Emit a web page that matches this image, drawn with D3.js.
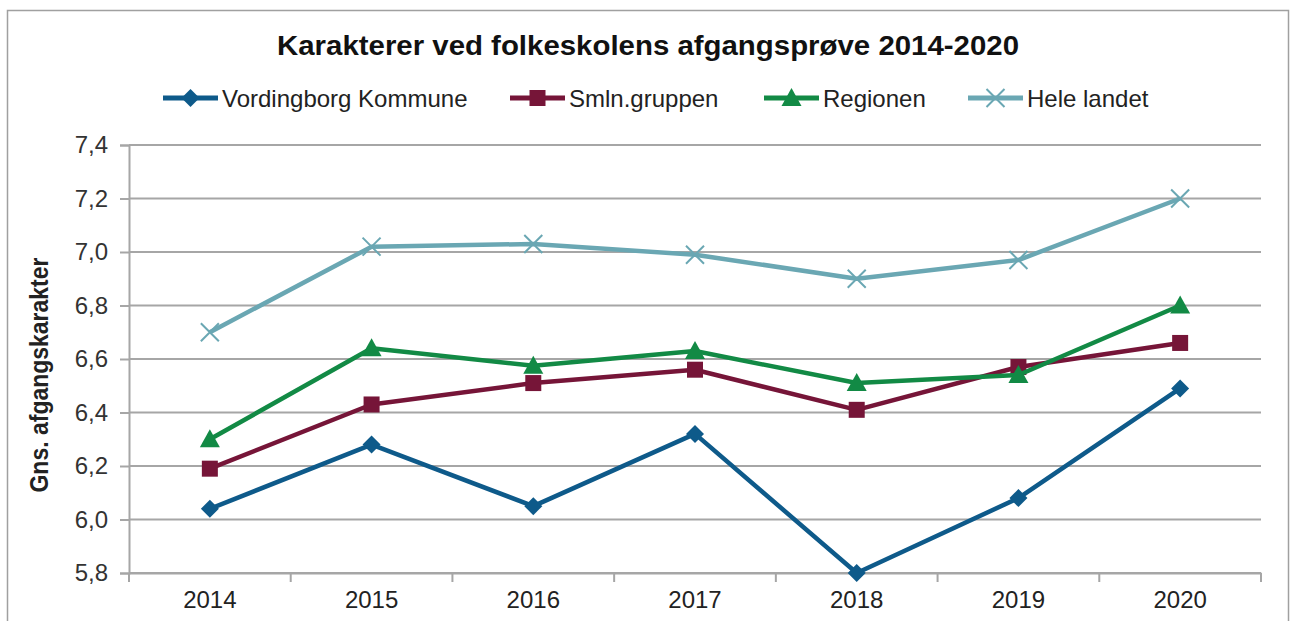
<!DOCTYPE html>
<html><head><meta charset="utf-8">
<script src="https://cdn.jsdelivr.net/npm/d3@7"></script>
<style>body{margin:0;background:#fff;}svg{display:block;font-family:"Liberation Sans",Arial,sans-serif;}</style>
</head><body>
<svg id="c" width="1290" height="621"></svg>
<script>
const title = "Karakterer ved folkeskolens afgangsprøve 2014-2020";
const yAxisTitle = "Gns. afgangskarakter";
const years = ["2014","2015","2016","2017","2018","2019","2020"];
const yTicks = [5.8,6.0,6.2,6.4,6.6,6.8,7.0,7.2,7.4];
const seriesNames = ["Vordingborg Kommune","Smln.gruppen","Regionen","Hele landet"];
const vordingborg = [6.04,6.28,6.05,6.32,5.80,6.08,6.49];
const smln = [6.19,6.43,6.51,6.56,6.41,6.57,6.66];
const regionen = [6.30,6.64,6.575,6.63,6.51,6.54,6.80];
const heleLandet = [6.70,7.02,7.03,6.99,6.90,6.97,7.20];
const colors = ["#0e5a8a","#761538","#128a45","#6aa7b3"];
const markers = ["diamond","square","triangle","x"];

const series = [vordingborg, smln, regionen, heleLandet].map((v,i)=>({name:seriesNames[i], values:v, color:colors[i], marker:markers[i]}));

const FONT = "Liberation Sans, Arial, sans-serif";
const svg = d3.select("#c");
// outer border
svg.append("rect").attr("x",7.5).attr("y",10.5).attr("width",1281).attr("height",620).attr("fill","#fff").attr("stroke","#a0a0a0").attr("stroke-width",1.5);

const L=129, R=1261, T=145, B=573;
const x = d3.scaleBand().domain(years).range([L,R]);
const y = d3.scaleLinear().domain([5.8,7.4]).range([B,T]);

// gridlines
svg.append("g").selectAll("line").data(yTicks).join("line")
  .attr("x1",L).attr("x2",R).attr("y1",d=>y(d)).attr("y2",d=>y(d))
  .attr("stroke","#a6a6a6").attr("stroke-width",2);

// y axis
const yAxis = svg.append("g").attr("transform",`translate(${L},0)`)
  .call(d3.axisLeft(y).tickValues(yTicks).tickSize(9).tickPadding(12).tickFormat(d=>d3.format(".1f")(d).replace(".",",")));
yAxis.select(".domain").attr("stroke","#a6a6a6").attr("stroke-width",2);
yAxis.selectAll(".tick line").attr("stroke","#a6a6a6").attr("stroke-width",2);
yAxis.selectAll("text").attr("font-size",24).attr("fill","#333").attr("font-family",FONT);

// x axis
const xAxis = svg.append("g").attr("transform",`translate(0,${B})`)
  .call(d3.axisBottom(x).tickSize(0).tickPadding(18));
xAxis.select(".domain").attr("stroke","#a6a6a6").attr("stroke-width",2);
xAxis.selectAll("text").attr("font-size",24).attr("fill","#222").attr("font-family",FONT);
// category separators
const edges = years.map(d=>x(d)).concat([x(years[years.length-1])+x.bandwidth()]);
svg.append("g").selectAll("line").data(edges).join("line")
  .attr("x1",d=>d).attr("x2",d=>d).attr("y1",B).attr("y2",B+9)
  .attr("stroke","#a6a6a6").attr("stroke-width",2);

// title
svg.append("text").attr("x",648).attr("y",55).attr("text-anchor","middle")
  .attr("font-size",28).attr("font-weight","bold").attr("fill","#111")
  .attr("textLength",742).attr("lengthAdjust","spacingAndGlyphs").text(title);

// y axis title
svg.append("text").attr("transform","translate(48,375) rotate(-90)").attr("text-anchor","middle")
  .attr("font-size",25).attr("font-weight","bold").attr("fill","#222")
  .attr("textLength",235).attr("lengthAdjust","spacingAndGlyphs").text(yAxisTitle);

function drawMarker(g, type, cx, cy, color){
  if(type==="diamond"){
    g.append("path").attr("d",`M${cx},${cy-9}L${cx+9},${cy}L${cx},${cy+9}L${cx-9},${cy}Z`).attr("fill",color);
  } else if(type==="square"){
    g.append("rect").attr("x",cx-8).attr("y",cy-8).attr("width",16).attr("height",16).attr("fill",color);
  } else if(type==="triangle"){
    g.append("path").attr("d",`M${cx},${cy-10}L${cx+10},${cy+8}L${cx-10},${cy+8}Z`).attr("fill",color);
  } else {
    g.append("path").attr("d",`M${cx-9},${cy-9}L${cx+9},${cy+9}M${cx-9},${cy+9}L${cx+9},${cy-9}`).attr("stroke",color).attr("stroke-width",2);
  }
}

const line = d3.line().x((d,i)=>x(years[i])+x.bandwidth()/2).y(d=>y(d));
series.forEach(s=>{
  const g = svg.append("g");
  g.append("path").attr("d",line(s.values)).attr("fill","none").attr("stroke",s.color).attr("stroke-width",4.5).attr("stroke-linejoin","round");
  s.values.forEach((v,i)=>drawMarker(g, s.marker, x(years[i])+x.bandwidth()/2, y(v), s.color));
});

// legend
const legendX = [163,510,764,968];
const lg = svg.append("g");
series.forEach((s,i)=>{
  const lx = legendX[i], ly = 98;
  lg.append("line").attr("x1",lx).attr("x2",lx+55).attr("y1",ly).attr("y2",ly).attr("stroke",s.color).attr("stroke-width",5);
  drawMarker(lg, s.marker, lx+27.5, ly, s.color);
  lg.append("text").attr("x",lx+59).attr("y",ly+8.5).attr("font-size",24).attr("fill","#222").text(s.name);
});
</script>
</body></html>
